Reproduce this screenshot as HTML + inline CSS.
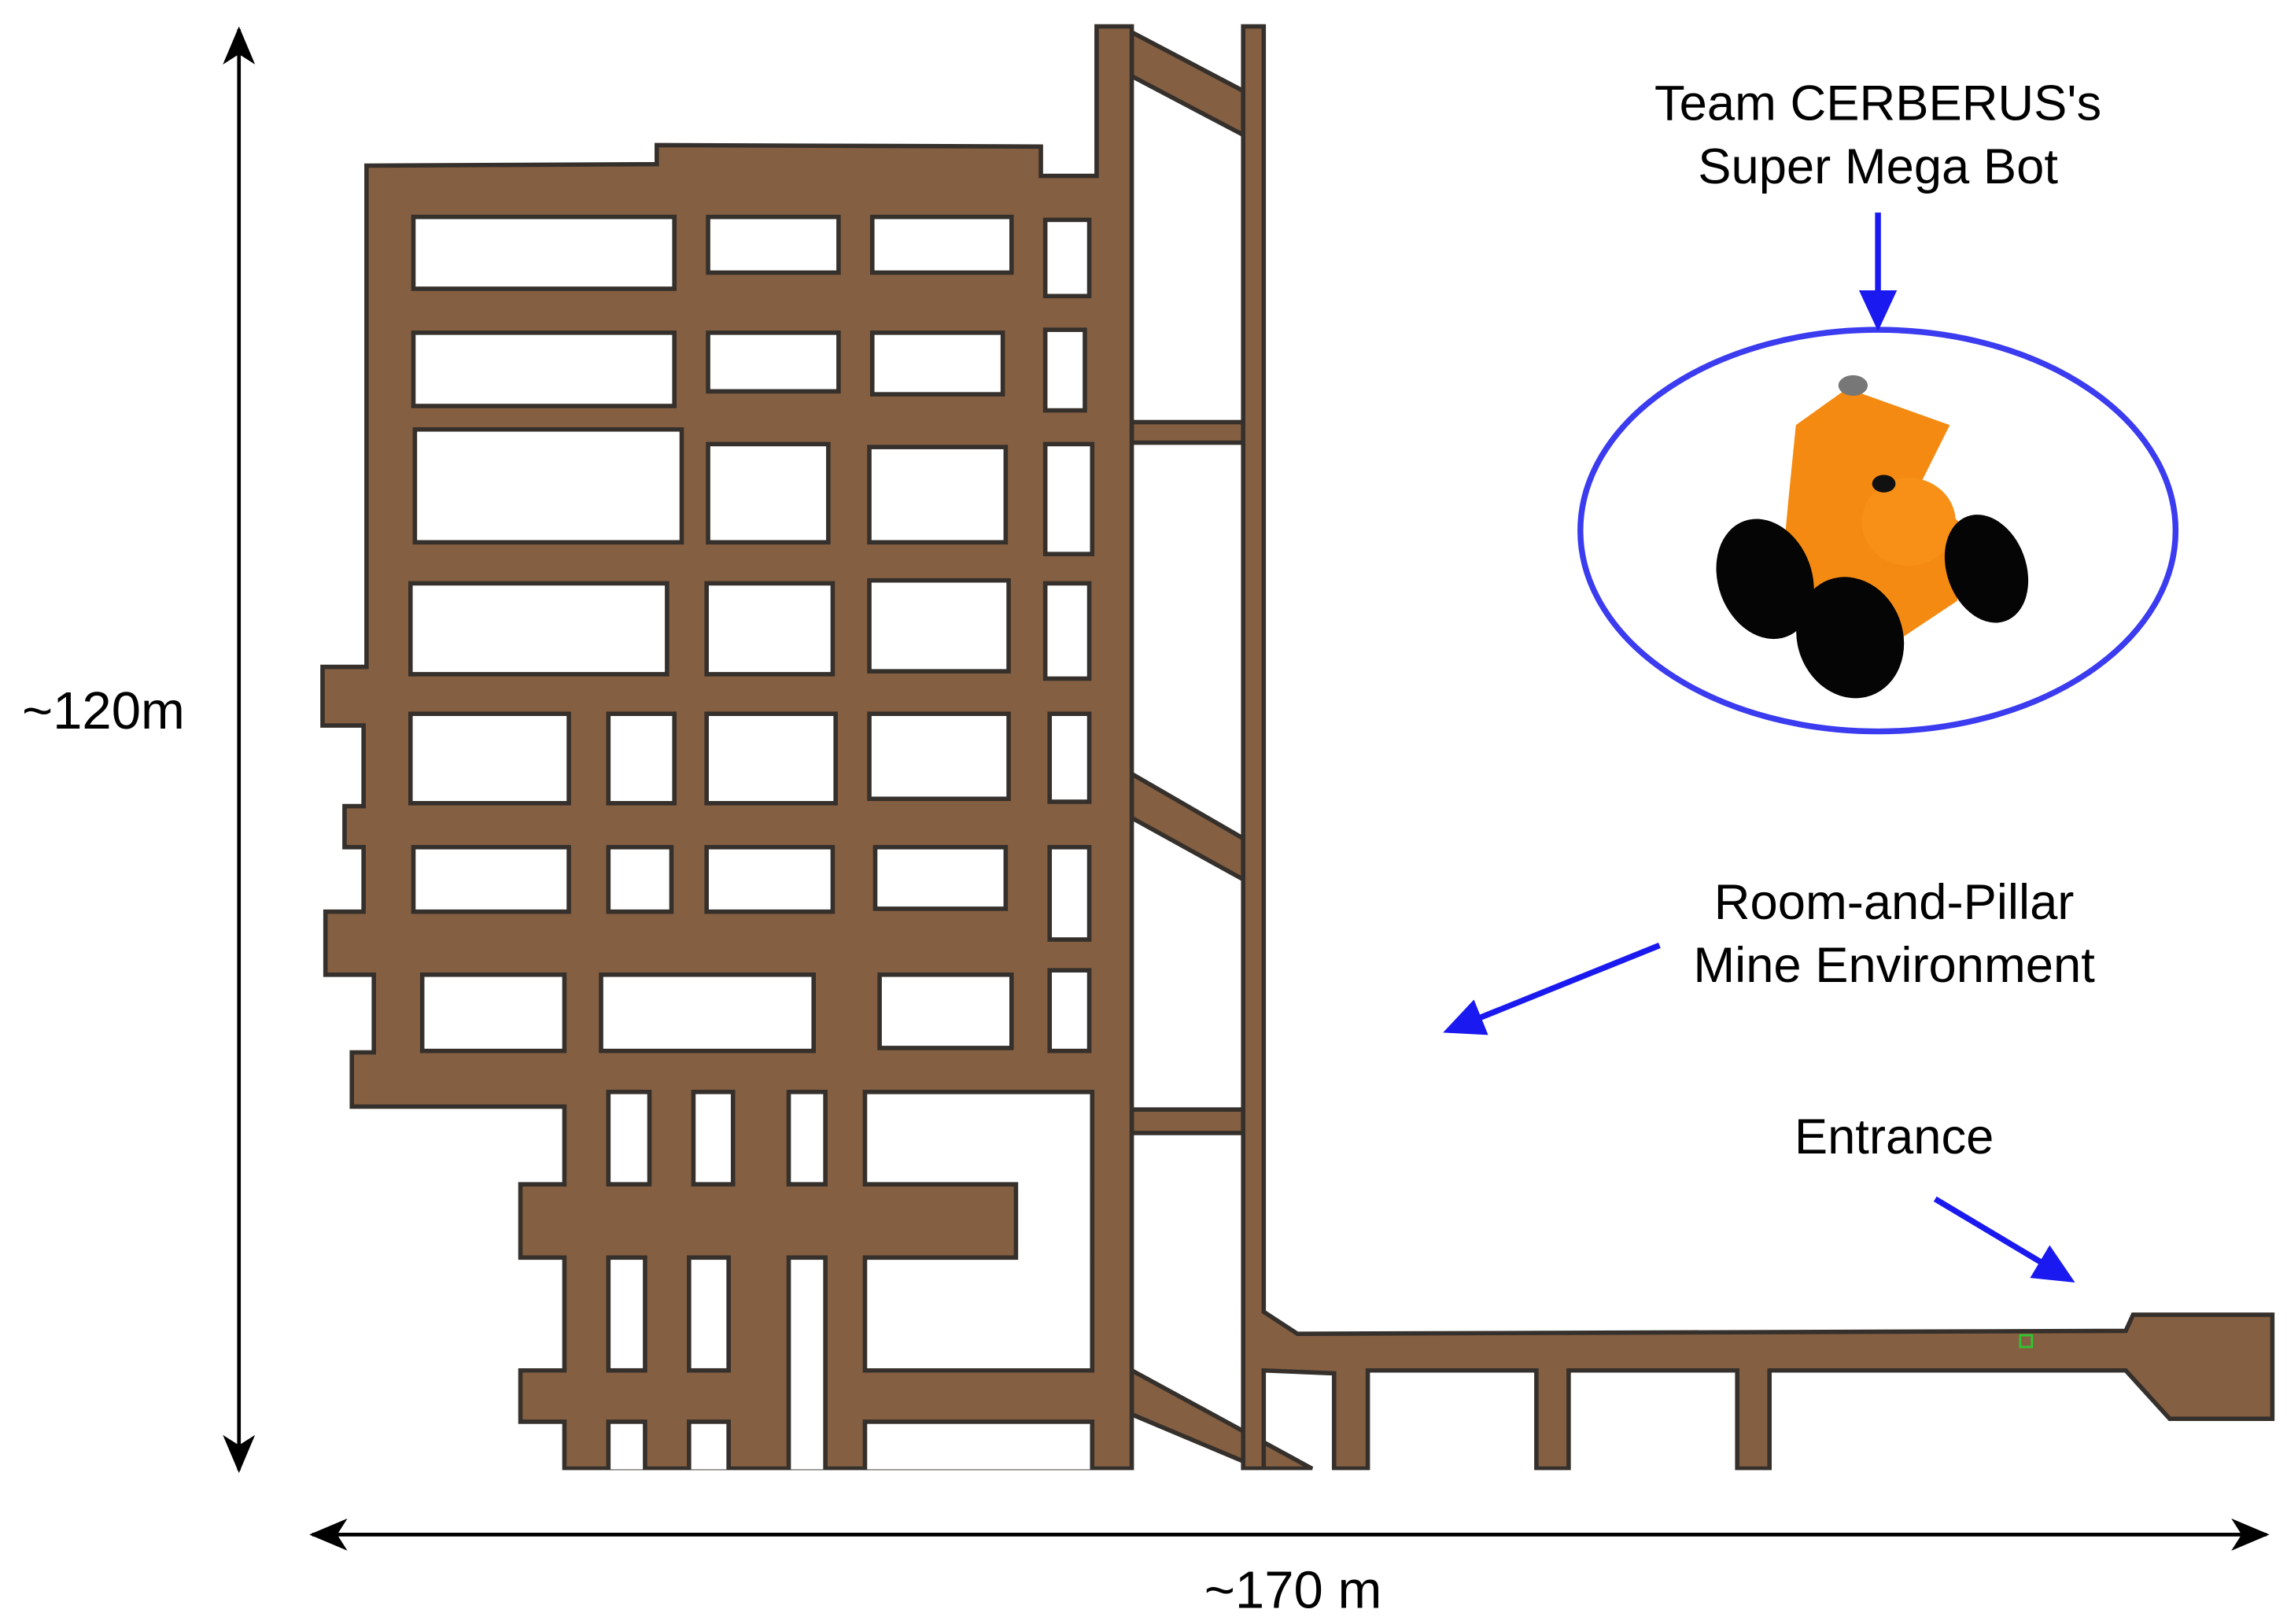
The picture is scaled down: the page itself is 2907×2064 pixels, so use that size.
<!DOCTYPE html>
<html><head><meta charset="utf-8"><style>
html,body{margin:0;padding:0;background:#fff;}
svg{display:block;}
text{font-family:"Liberation Sans",Arial,sans-serif;fill:#000;}
</style></head><body>
<svg width="2907" height="2064" viewBox="0 0 1560 1108" preserveAspectRatio="none" xmlns="http://www.w3.org/2000/svg">
<defs>
<marker id="ab" markerWidth="26" markerHeight="22" refX="24" refY="11" orient="auto" markerUnits="userSpaceOnUse" viewBox="0 0 26 22"><path d="M0,0 L26,11 L0,22 L7,11 Z" fill="#000"/></marker>
<marker id="as" markerWidth="26" markerHeight="22" refX="2" refY="11" orient="auto" markerUnits="userSpaceOnUse" viewBox="0 0 26 22"><path d="M26,0 L0,11 L26,22 L19,11 Z" fill="#000"/></marker>
<marker id="bb" markerWidth="30" markerHeight="28" refX="24" refY="14" orient="auto" markerUnits="userSpaceOnUse" viewBox="0 0 30 28"><path d="M0,1 L28,14 L0,27 Z" fill="#1a1af0"/></marker>
</defs>
<rect width="1560" height="1108" fill="#fff"/>
<g fill="#855f42" stroke="#35302b" stroke-width="3" stroke-linejoin="miter">
<polygon points="772,22 848,62 848,92 772,52"/>
<rect x="772" y="288" width="76" height="14"/>
<polygon points="772,528 848,572 848,600 772,558"/>
<rect x="772" y="757" width="76" height="16"/>
<polygon points="772,935 895,1002 860,1002 772,965"/>
<polygon points="848,18 862,18 862,895 885,910 1450,908 1455,897 1550,897 1550,968 1480,968 1450,935 1207,935 1207,1002 1185,1002 1185,935 1070,935 1070,1002 1048,1002 1048,935 933,935 933,1002 910,1002 910,937 862,935 862,1002 848,1002"/>
<polygon points="250,113 448,112 448,99 710,100 710,120 748,120 748,18 772,18 772,1002 385,1002 385,970 355,970 355,935 385,935 385,858 355,858 355,808 385,808 385,755 240,755 240,718 255,718 255,665 222,665 222,622 248,622 248,578 235,578 235,550 248,550 248,495 220,495 220,455 250,455"/>
</g>
<g fill="#fff" stroke="#35302b" stroke-width="3">
<rect x="282" y="148" width="178" height="49"/><rect x="483" y="148" width="89" height="38"/><rect x="595" y="148" width="95" height="38"/><rect x="713" y="150" width="30" height="52"/>
<rect x="282" y="227" width="178" height="50"/><rect x="483" y="227" width="89" height="40"/><rect x="595" y="227" width="89" height="42"/><rect x="713" y="225" width="27" height="55"/>
<rect x="283" y="293" width="182" height="77"/><rect x="483" y="303" width="82" height="67"/><rect x="593" y="305" width="93" height="65"/><rect x="713" y="303" width="32" height="75"/>
<rect x="280" y="398" width="175" height="62"/><rect x="482" y="398" width="86" height="62"/><rect x="593" y="396" width="95" height="62"/><rect x="713" y="398" width="30" height="65"/>
<rect x="280" y="487" width="108" height="61"/><rect x="415" y="487" width="45" height="61"/><rect x="482" y="487" width="88" height="61"/><rect x="593" y="487" width="95" height="58"/><rect x="716" y="487" width="27" height="60"/>
<rect x="282" y="578" width="106" height="44"/><rect x="415" y="578" width="43" height="44"/><rect x="482" y="578" width="86" height="44"/><rect x="597" y="578" width="89" height="42"/><rect x="716" y="578" width="27" height="63"/>
<rect x="288" y="665" width="97" height="52"/><rect x="410" y="665" width="145" height="52"/><rect x="600" y="665" width="90" height="50"/><rect x="716" y="662" width="27" height="55"/>
<rect x="415" y="745" width="28" height="63"/><rect x="473" y="745" width="27" height="63"/><rect x="538" y="745" width="25" height="63"/>
<polygon points="590,745 745,745 745,935 590,935 590,858 693,858 693,808 590,808"/>
<rect x="415" y="858" width="25" height="77"/><rect x="470" y="858" width="27" height="77"/><rect x="538" y="858" width="25" height="146"/>
<rect x="415" y="970" width="25" height="34"/><rect x="470" y="970" width="27" height="34"/><rect x="590" y="970" width="155" height="34"/>
</g>
<rect x="0" y="1003" width="1560" height="105" fill="#fff"/>
<rect x="1378" y="911" width="8" height="8" fill="none" stroke="#2fc52f" stroke-width="1.5"/>
<line x1="163" y1="20" x2="163" y2="1003" stroke="#000" stroke-width="2.5" marker-start="url(#as)" marker-end="url(#ab)"/>
<line x1="213" y1="1047" x2="1546" y2="1047" stroke="#000" stroke-width="2.5" marker-start="url(#as)" marker-end="url(#ab)"/>
<text x="15" y="497" font-size="36">~120m</text>
<text x="882" y="1097" font-size="36" text-anchor="middle">~170 m</text>
<ellipse cx="1281" cy="362" rx="203" ry="137" fill="none" stroke="#3b3bf0" stroke-width="4"/>
<g>
<polygon points="1225,290 1260,265 1330,290 1310,330 1340,360 1335,410 1290,440 1240,430 1215,395 1220,340" fill="#f58a12"/>
<ellipse cx="1302" cy="356" rx="32" ry="30" fill="#f89018"/>
<ellipse cx="1264" cy="263" rx="10" ry="7" fill="#777"/>
<ellipse cx="1204" cy="395" rx="32" ry="42" fill="#050505" transform="rotate(-20 1204 395)"/>
<ellipse cx="1355" cy="388" rx="27" ry="38" fill="#050505" transform="rotate(-20 1355 388)"/>
<ellipse cx="1262" cy="435" rx="36" ry="42" fill="#050505" transform="rotate(-20 1262 435)"/>
<ellipse cx="1285" cy="330" rx="8" ry="6" fill="#111"/>
</g>
<text x="1281" y="82" font-size="34" text-anchor="middle">Team CERBERUS's</text>
<text x="1281" y="125" font-size="34" text-anchor="middle">Super Mega Bot</text>
<line x1="1281" y1="145" x2="1281" y2="222" stroke="#1a1af0" stroke-width="4" marker-end="url(#bb)"/>
<text x="1292" y="627" font-size="34" text-anchor="middle">Room-and-Pillar</text>
<text x="1292" y="670" font-size="34" text-anchor="middle">Mine Environment</text>
<line x1="1132" y1="645" x2="988" y2="703" stroke="#1a1af0" stroke-width="4" marker-end="url(#bb)"/>
<text x="1292" y="787" font-size="34" text-anchor="middle">Entrance</text>
<line x1="1320" y1="818" x2="1412" y2="873" stroke="#1a1af0" stroke-width="4" marker-end="url(#bb)"/>
</svg>
</body></html>
